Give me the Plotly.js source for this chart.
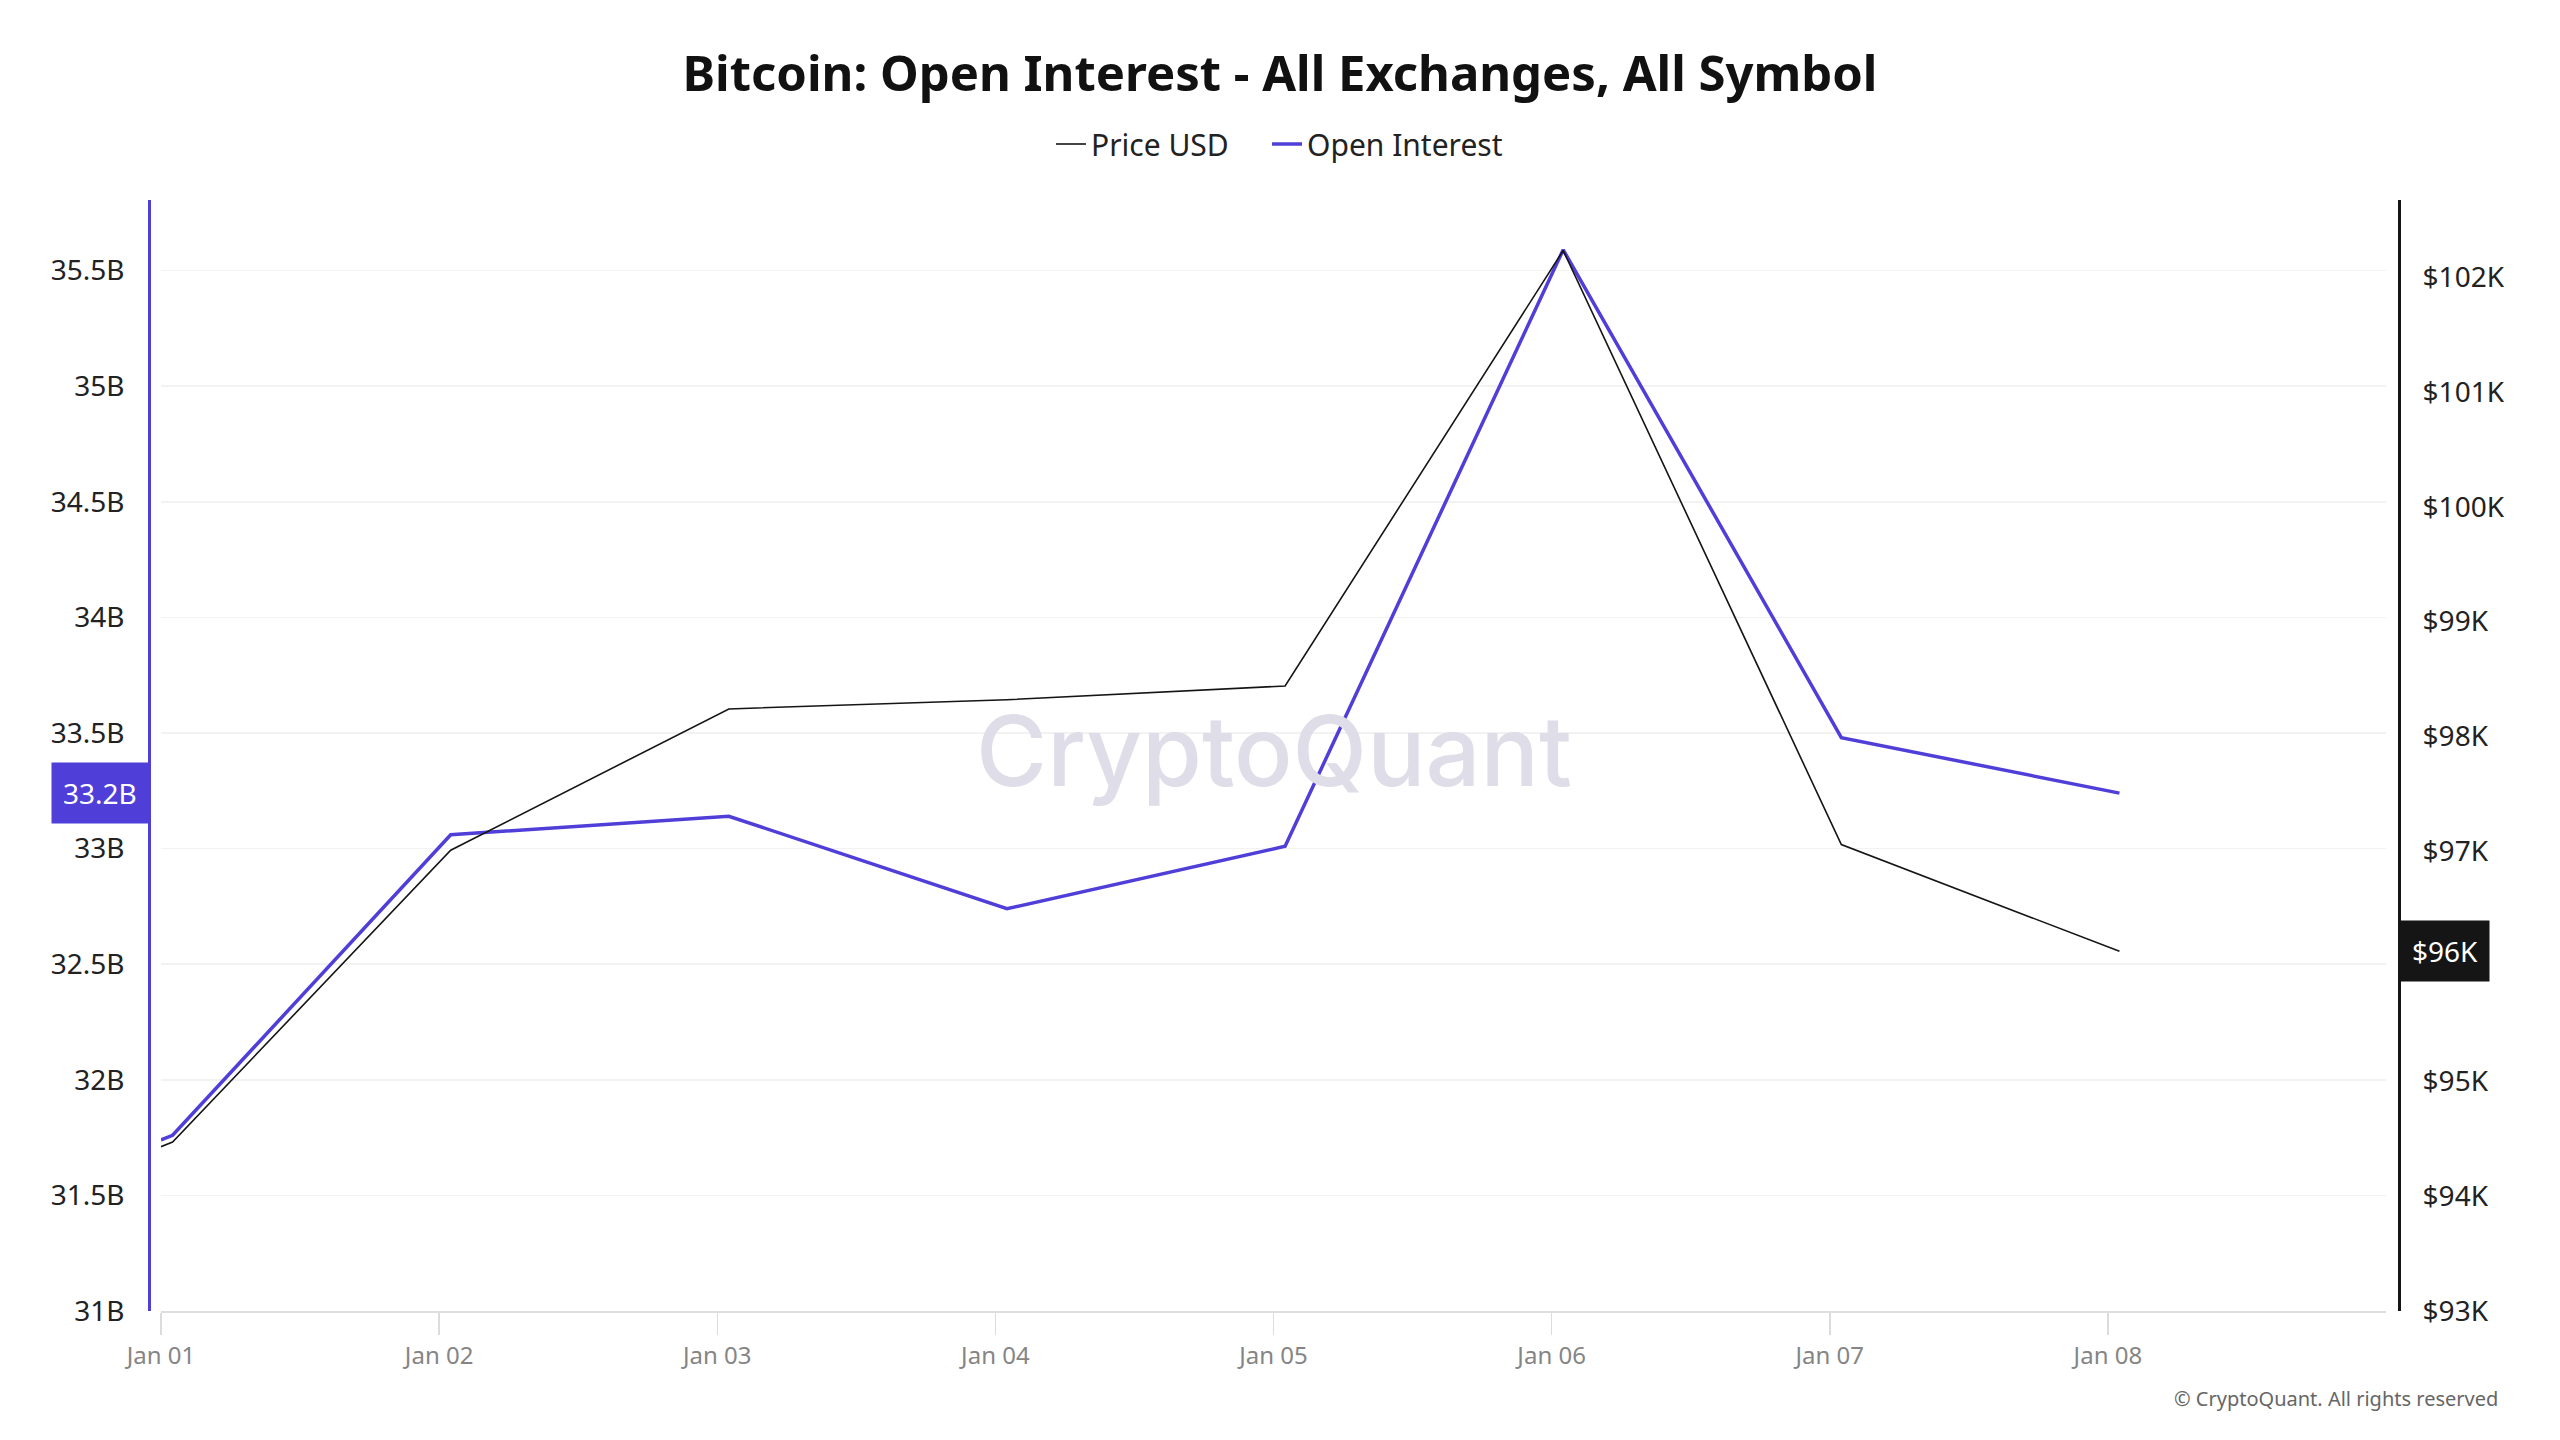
<!DOCTYPE html>
<html>
<head>
<meta charset="utf-8">
<script src="https://cdn.plot.ly/plotly-3.0.1.min.js"></script>
<style>
  html, body { margin: 0; padding: 0; background: #ffffff; }
  #chart { width: 2560px; height: 1440px; }
</style>
</head>
<body>
<div id="chart"></div>
<script>
// ---- data ----
const dates = ['2025-01-01 00:00', '2025-01-01 01:00', '2025-01-02 01:00', '2025-01-03 01:00',
               '2025-01-04 01:00', '2025-01-05 01:00', '2025-01-06 01:00', '2025-01-07 01:00',
               '2025-01-08 01:00'];
const openInterestB = [31.74, 31.76, 33.06, 33.14, 32.74, 33.01, 35.59, 33.48, 33.24];
const priceUsdK = [94.43, 94.47, 97.01, 98.24, 98.32, 98.44, 102.23, 97.06, 96.13];

const xTickVals = ['2025-01-01', '2025-01-02', '2025-01-03', '2025-01-04',
                   '2025-01-05', '2025-01-06', '2025-01-07', '2025-01-08'];
const xTickText = ['Jan 01', 'Jan 02', 'Jan 03', 'Jan 04', 'Jan 05', 'Jan 06', 'Jan 07', 'Jan 08'];
const leftTickVals = [31, 31.5, 32, 32.5, 33, 33.5, 34, 34.5, 35, 35.5];
const leftTickText = ['31B', '31.5B', '32B', '32.5B', '33B', '33.5B', '34B', '34.5B', '35B', '35.5B'];
const rightTickVals = [93, 94, 95, 96, 97, 98, 99, 100, 101, 102];
const rightTickText = ['$93K', '$94K', '$95K', '$96K', '$97K', '$98K', '$99K', '$100K', '$101K', '$102K'];

const PURPLE = '#4f3fd8';
const BLACK = '#151515';
const FONT = 'Noto Sans, Open Sans, sans-serif';

const W = 2560, H = 1440;
const plotTop = 200, plotBottom = 1311;
const xStart = 161, xEnd = 2386;
const leftAxisX = 149, rightAxisX = 2399;
const legendY = (plotBottom - 144) / (plotBottom - plotTop);

const traces = [
  {
    x: dates, y: openInterestB, name: 'Open Interest', type: 'scatter', mode: 'lines',
    line: { color: PURPLE, width: 3.5 }, yaxis: 'y', legend: 'legend2', hoverinfo: 'skip'
  },
  {
    x: dates, y: priceUsdK, name: 'Price USD', type: 'scatter', mode: 'lines',
    line: { color: BLACK, width: 1.6 }, yaxis: 'y2', legend: 'legend', hoverinfo: 'skip'
  }
];

const lastOI = openInterestB[openInterestB.length - 1];
const lastPrice = priceUsdK[priceUsdK.length - 1];

const legendBase = {
  orientation: 'h', xanchor: 'left', y: legendY, yanchor: 'middle',
  font: { family: FONT, size: 30, color: '#222' },
  bgcolor: 'rgba(0,0,0,0)', borderwidth: 0
};

const layout = {
  width: W, height: H,
  paper_bgcolor: '#ffffff', plot_bgcolor: '#ffffff',
  margin: { l: 0, r: 0, t: plotTop, b: H - plotBottom, pad: 0 },
  font: { family: FONT, color: '#222' },
  title: {
    text: 'Bitcoin: Open Interest - All Exchanges, All Symbol',
    font: { family: FONT, size: 49, color: '#111', weight: 'bold' },
    x: 0.5, xanchor: 'center', xref: 'paper',
    y: 1 - 74 / H, yref: 'container', yanchor: 'middle'
  },
  showlegend: true,
  legend: Object.assign({}, legendBase, { x: 1051 / W }),
  legend2: Object.assign({}, legendBase, { x: 1267 / W }),
  xaxis: {
    type: 'date',
    domain: [xStart / W, xEnd / W],
    range: ['2025-01-01', '2025-01-09'],
    tickmode: 'array', tickvals: xTickVals, ticktext: xTickText,
    ticks: 'outside', ticklen: 22, tickwidth: 1.5, tickcolor: '#dcdcdc',
    ticklabelstandoff: 0,
    tickfont: { family: FONT, size: 24, color: '#858585' },
    showline: true, linecolor: '#dedede', linewidth: 2,
    showgrid: false, zeroline: false, fixedrange: true
  },
  yaxis: {
    range: [31, 31 + (plotBottom - plotTop) / 231.2],
    tickmode: 'array', tickvals: leftTickVals, ticktext: leftTickText,
    anchor: 'free', position: leftAxisX / W, side: 'left',
    ticks: '', ticklabelstandoff: 18,
    tickfont: { family: FONT, size: 28, color: '#222' },
    showline: true, linecolor: PURPLE, linewidth: 3,
    showgrid: true, gridcolor: '#f2f2f2', gridwidth: 1.5,
    zeroline: false, fixedrange: true
  },
  yaxis2: {
    range: [93, 93 + (plotBottom - plotTop) / 114.9],
    tickmode: 'array', tickvals: rightTickVals, ticktext: rightTickText,
    overlaying: 'y', side: 'right', anchor: 'free', position: rightAxisX / W,
    ticks: '', ticklabelstandoff: 16,
    tickfont: { family: FONT, size: 28, color: '#222' },
    showline: true, linecolor: BLACK, linewidth: 3,
    showgrid: false, zeroline: false, fixedrange: true
  },
  annotations: [
    {
      text: 'CryptoQuant', xref: 'paper', yref: 'paper',
      x: 1274 / W, y: (plotBottom - 750) / (plotBottom - plotTop),
      xanchor: 'center', yanchor: 'middle', showarrow: false,
      font: { family: 'Inter, Noto Sans, sans-serif', size: 97, color: '#dedde8', weight: 500 }
    },
    {
      text: lastOI.toFixed(1) + 'B', xref: 'paper', yref: 'y',
      x: leftAxisX / W, y: lastOI, xanchor: 'right', yanchor: 'middle', showarrow: false,
      bgcolor: PURPLE, borderpad: 11,
      font: { family: FONT, size: 28, color: '#ffffff' }
    },
    {
      text: '$' + Math.round(lastPrice) + 'K', xref: 'paper', yref: 'y2',
      x: (rightAxisX + 1) / W, y: lastPrice, xanchor: 'left', yanchor: 'middle', showarrow: false,
      bgcolor: BLACK, borderpad: 11,
      font: { family: FONT, size: 28, color: '#ffffff' }
    },
    {
      text: '© CryptoQuant. All rights reserved', xref: 'paper', yref: 'paper',
      x: 2500 / W, y: (plotBottom - 1398) / (plotBottom - plotTop),
      xanchor: 'right', yanchor: 'middle', showarrow: false,
      font: { family: FONT, size: 20, color: '#666' }
    }
  ]
};

Plotly.newPlot('chart', traces, layout, { displayModeBar: false, staticPlot: true });
</script>
</body>
</html>
